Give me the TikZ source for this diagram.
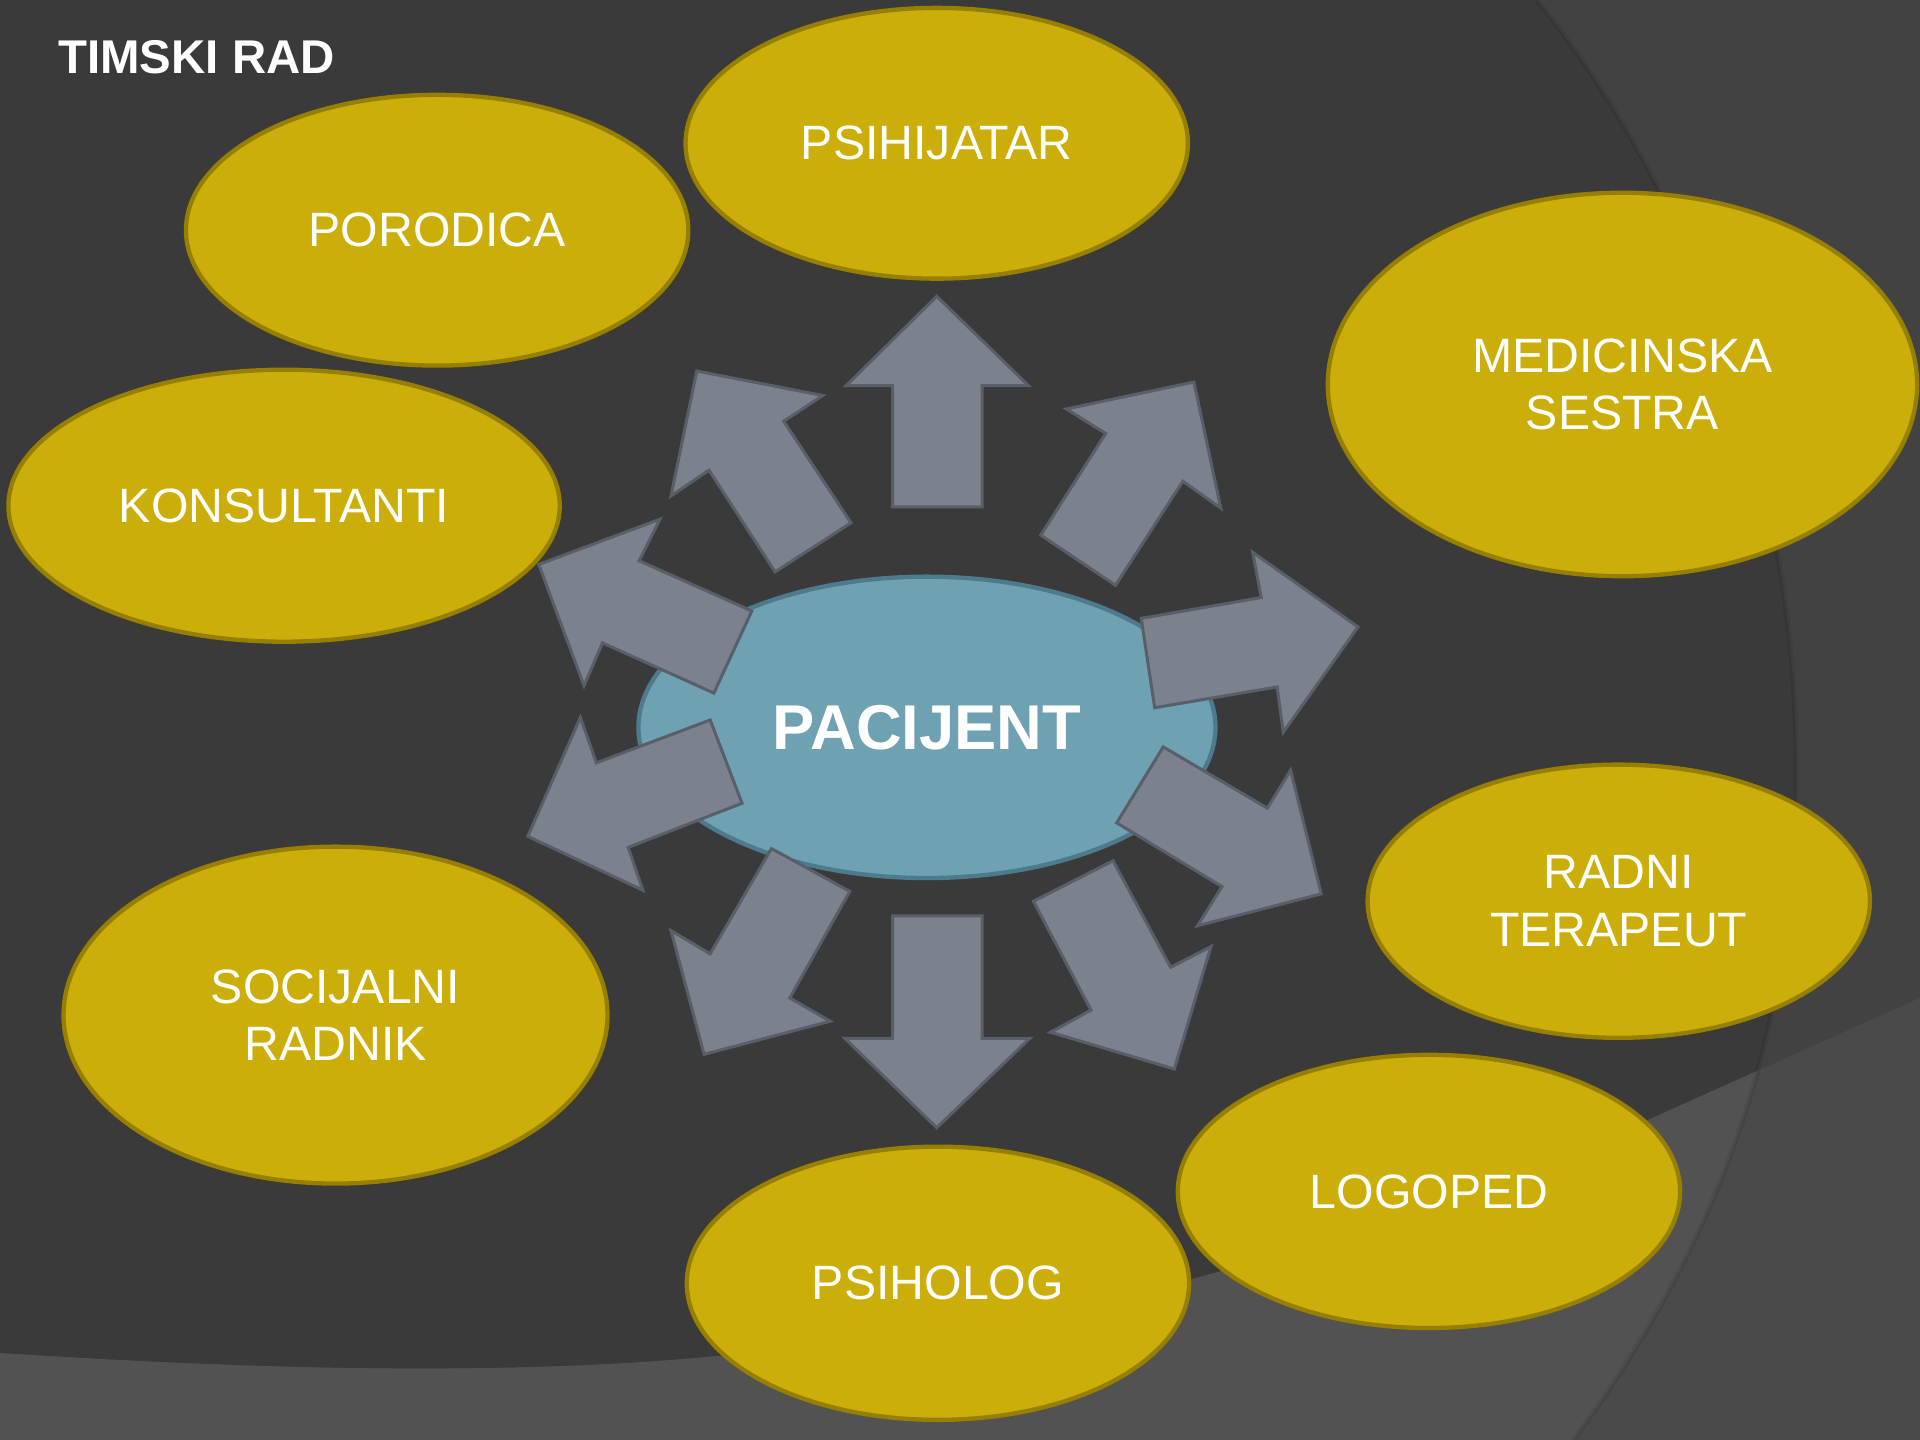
\documentclass[tikz,border=0pt]{standalone}
\usepackage{fontspec}
\setmainfont{Liberation Sans}
\usetikzlibrary{shapes.geometric}

\definecolor{bgdark}{HTML}{3A3A3A}
\definecolor{bgside}{HTML}{424242}
\definecolor{bglow}{HTML}{525252}
\definecolor{bglowside}{HTML}{4A4A4A}
\definecolor{teamgold}{HTML}{CCAE0A}
\definecolor{teamgoldedge}{HTML}{978000}
\definecolor{patientblue}{HTML}{6EA1B1}
\definecolor{patientedge}{HTML}{4D7B8B}
\definecolor{arrowgray}{HTML}{7B828E}
\definecolor{arrowedge}{HTML}{595F69}

\tikzset{
  member/.style={ellipse, draw=teamgoldedge, fill=teamgold, line width=1pt,
    text=white, font=\fontsize{11.2}{13.4}\selectfont, align=center, inner sep=0pt},
  patient/.style={ellipse, draw=patientedge, fill=patientblue, line width=1pt,
    text=white, font=\fontsize{14.7}{17}\selectfont\bfseries, inner sep=0pt},
  blockarrow/.style={fill=arrowgray, draw=arrowedge, line width=0.7pt},
}

\begin{document}
\begin{tikzpicture}[x=0.01cm, y=-0.01cm]
\useasboundingbox (0,0) rectangle (1568,1176);
% Background
\fill[bgdark] (0,0) rectangle (1568,1176);
\fill[bgside] (1255,0) .. controls (1400,180) and (1467,420) .. (1467,630) .. controls (1467,850) and (1400,1020) .. (1285,1176) -- (1568,1176) -- (1568,0) -- cycle;
\fill[bglowside] (0,1105) .. controls (200,1118) and (420,1125) .. (600,1106) .. controls (750,1090) and (880,1068) .. (972,1045) .. controls (1120,1005) and (1240,960) .. (1345,915) -- (1568,815) -- (1568,1176) -- (0,1176) -- cycle;
\begin{scope}
\clip (0,0) -- (1255,0) .. controls (1400,180) and (1467,420) .. (1467,630) .. controls (1467,850) and (1400,1020) .. (1285,1176) -- (0,1176) -- cycle;
\fill[bglow] (0,1105) .. controls (200,1118) and (420,1125) .. (600,1106) .. controls (750,1090) and (880,1068) .. (972,1045) .. controls (1120,1005) and (1240,960) .. (1345,915) -- (1568,815) -- (1568,1176) -- (0,1176) -- cycle;
\end{scope}
\draw[black, opacity=0.07, line width=1.2pt] (1255,0) .. controls (1400,180) and (1467,420) .. (1467,630) .. controls (1467,850) and (1400,1020) .. (1285,1176);

% Title
\node[anchor=base west, inner sep=0pt, text=white, font=\fontsize{11}{13}\selectfont\bfseries] (title) at (47,60) {TIMSKI RAD};

% Team members
\node[member, minimum width=4.10cm, minimum height=2.21cm] (psihijatar) at (765,117) {PSIHIJATAR};
\node[member, minimum width=4.10cm, minimum height=2.21cm] (porodica) at (357,188) {PORODICA};
\node[member, minimum width=4.81cm, minimum height=3.13cm] (sestra) at (1325,314) {MEDICINSKA\\SESTRA};
\node[member, minimum width=4.50cm, minimum height=2.22cm] (konsultanti) at (232,413) {KONSULTANTI};
\node[member, minimum width=4.10cm, minimum height=2.23cm] (terapeut) at (1322,736) {RADNI\\TERAPEUT};
\node[member, minimum width=4.44cm, minimum height=2.75cm] (socijalni) at (274,829) {SOCIJALNI\\RADNIK};
\node[member, minimum width=4.10cm, minimum height=2.23cm] (logoped) at (1167,973) {LOGOPED};
\node[member, minimum width=4.10cm, minimum height=2.23cm] (psiholog) at (766,1048) {PSIHOLOG};

% Patient
\node[patient, minimum width=4.71cm, minimum height=2.46cm] (pacijent) at (757,594) {PACIJENT};

% Arrows
\draw[blockarrow] (765,242) -- (840,315) -- (802,315) -- (802,414) -- (729,414) -- (729,315) -- (691,315) -- cycle; % up
\draw[blockarrow] (729,748) -- (802,748) -- (802,848) -- (841,848) -- (765,921) -- (690,848) -- (729,848) -- cycle; % down
\draw[blockarrow] (569,303) -- (672,323) -- (640,344) -- (695,427) -- (633,467) -- (579,384) -- (548,405) -- cycle;
\draw[blockarrow] (440,461) -- (539,424) -- (522,458) -- (614,499) -- (583,566) -- (492,525) -- (477,560) -- cycle;
\draw[blockarrow] (474,586) -- (487,623) -- (580,588) -- (606,656) -- (513,692) -- (525,727) -- (431,683) -- cycle;
\draw[blockarrow] (871,334) -- (975,312) -- (997,415) -- (966,393) -- (911,478) -- (850,437) -- (903,354) -- cycle;
\draw[blockarrow] (932,505) -- (1030,488) -- (1023,451) -- (1109,512) -- (1048,598) -- (1043,561) -- (943,578) -- cycle;
\draw[blockarrow] (950,610) -- (1035,660) -- (1054,629) -- (1079,730) -- (978,756) -- (998,724) -- (912,672) -- cycle;
\draw[blockarrow] (630,693) -- (694,728) -- (645,815) -- (678,834) -- (575,861) -- (548,760) -- (580,779) -- cycle;
\draw[blockarrow] (844,736) -- (909,703) -- (956,790) -- (989,773) -- (959,873) -- (858,843) -- (891,825) -- cycle;
\end{tikzpicture}
\end{document}
